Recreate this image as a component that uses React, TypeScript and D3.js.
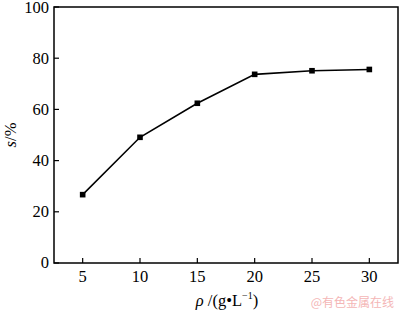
import React from "react";
import * as d3 from "d3";

const concentration = [5, 10, 15, 20, 25, 30];
const sValues = [26.7, 49.1, 62.4, 73.7, 75.1, 75.6];
const xTicks = [5, 10, 15, 20, 25, 30];
const yTicks = [0, 20, 40, 60, 80, 100];

export default function App() {
  const W = 400, H = 312;
  const left = 54, right = 398, top = 7, bottom = 263;
  const x = d3.scaleLinear().domain([2.5, 32.5]).range([left, right]);
  const y = d3.scaleLinear().domain([0, 100]).range([bottom, top]);
  const pts = concentration.map((c, i) => [x(c), y(sValues[i])] as [number, number]);
  const line = d3.line()(pts) || "";
  const ts = { fontFamily: "Liberation Serif", fontSize: 16.5 };
  return (
    <svg width={W} height={H} style={{ position: "absolute", left: 0, top: 0, background: "#fff" }}>
      <rect x={left} y={top} width={right - left} height={bottom - top} fill="none" stroke="#000" strokeWidth={1.5} />
      {xTicks.map((t) => (
        <g key={"x" + t}>
          <line x1={x(t)} x2={x(t)} y1={bottom} y2={bottom - 5} stroke="#000" strokeWidth={1.2} />
          <text x={x(t)} y={282} textAnchor="middle" style={ts}>{t}</text>
        </g>
      ))}
      {yTicks.map((t) => (
        <g key={"y" + t}>
          <line x1={left} x2={left + 5} y1={y(t)} y2={y(t)} stroke="#000" strokeWidth={1.2} />
          <text x={49} y={Math.max(y(t) + 5.3, 12.5)} textAnchor="end" style={ts}>{t}</text>
        </g>
      ))}
      <path d={line} fill="none" stroke="#000" strokeWidth={1.6} />
      {pts.map(([px, py], i) => (
        <rect key={i} x={px - 2.8} y={py - 2.8} width={5.6} height={5.6} fill="#000" />
      ))}
      <text transform={`translate(16,135) rotate(-90)`} textAnchor="middle" style={ts}>
        <tspan fontStyle="italic">s</tspan>/%
      </text>
      <text x={227} y={306} textAnchor="middle" style={ts}>
        <tspan fontStyle="italic">ρ</tspan>
        <tspan> /(g•L</tspan>
        <tspan fontSize={10} dy={-7}>−1</tspan>
        <tspan dy={7}>)</tspan>
      </text>
      <text x={394} y={307} textAnchor="end" style={{ fontFamily: "Noto Sans CJK SC", fontSize: 12 }} fill="#f4b6b6">
        @有色金属在线
      </text>
    </svg>
  );
}
